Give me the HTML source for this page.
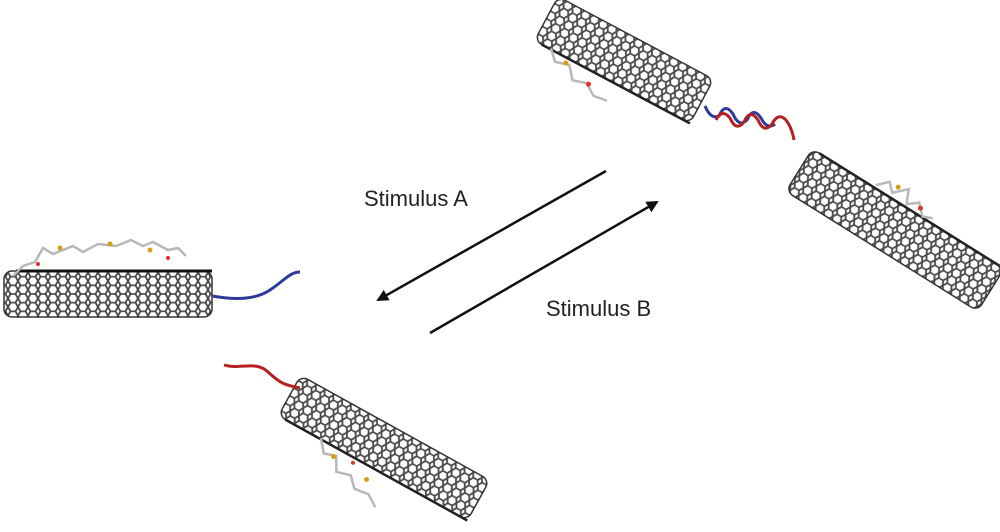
<!DOCTYPE html>
<html><head><meta charset="utf-8"><style>
html,body{margin:0;padding:0;background:#fff;width:1000px;height:532px;overflow:hidden}
</style></head><body>
<svg width="1000" height="532" viewBox="0 0 1000 532" xmlns="http://www.w3.org/2000/svg">
<defs>
<pattern id="hex" width="10" height="8.66" patternUnits="userSpaceOnUse">
<rect width="10" height="8.66" fill="#fff"/>
<path d="M0 4.33 L2.5 0 L7.5 0 L10 4.33 L7.5 8.66 L2.5 8.66 Z" fill="none" stroke="#4a4a4a" stroke-width="1.8"/>
</pattern>
<marker id="ah" markerWidth="12" markerHeight="12" refX="10" refY="6" orient="auto" markerUnits="userSpaceOnUse">
<path d="M0 0 L12 6 L0 12 Z" fill="#111"/>
</marker>
</defs>

<!-- Tube 1 -->
<g transform="translate(108,294)">
<rect x="-104" y="-23" width="208" height="46" rx="8" fill="url(#hex)" stroke="#333" stroke-width="1.5"/>
<line x1="-92" y1="-23" x2="104" y2="-23" stroke="#111" stroke-width="3"/>
<path d="M-95 -18 l10 -10 l12 -4 l8 -14 l10 6 l20 -8 l10 6 l15 -8 l18 2 l15 -6 l12 6 l10 -4 l15 8 l10 -2 l8 8" fill="none" stroke="#b8b8b8" stroke-width="2.5"/>
<circle cx="-48" cy="-46" r="2.5" fill="#d4a017"/><circle cx="2" cy="-50" r="2.5" fill="#d4a017"/><circle cx="42" cy="-44" r="2.5" fill="#d4a017"/>
<circle cx="-70" cy="-30" r="2" fill="#d33"/><circle cx="60" cy="-36" r="2" fill="#d33"/>
</g>
<path d="M212 296 C235 300,255 300,270 290 S290 272,300 272" fill="none" stroke="#2e3a9a" stroke-width="3"/>

<!-- Tube 2 -->
<g transform="translate(384,448) rotate(29)">
<rect x="-108" y="-23" width="216" height="46" rx="8" fill="url(#hex)" stroke="#333" stroke-width="1.5"/>
<line x1="-100" y1="23" x2="108" y2="23" stroke="#222" stroke-width="2.5"/>
<path d="M-60 22 l10 12 l12 -4 l8 14 l14 -4 l10 10 l15 -2 l12 8" fill="none" stroke="#b8b8b8" stroke-width="2.5"/>
<circle cx="-40" cy="32" r="2.5" fill="#d4a017"/><circle cx="0" cy="36" r="2.5" fill="#d4a017"/><circle cx="-20" cy="28" r="2" fill="#d33"/>
</g>
<path d="M224 365 C240 370,255 360,268 372 S285 385,300 388" fill="none" stroke="#b52020" stroke-width="3"/>

<!-- Tube 3 -->
<g transform="translate(624,60) rotate(28)">
<rect x="-88" y="-25" width="176" height="50" rx="8" fill="url(#hex)" stroke="#333" stroke-width="1.5"/>
<line x1="-80" y1="25" x2="88" y2="25" stroke="#222" stroke-width="2.5"/>
<path d="M-70 24 l10 10 l14 -4 l10 12 l14 -4 l12 8 l14 -2" fill="none" stroke="#b8b8b8" stroke-width="2.5"/>
<circle cx="-50" cy="30" r="2.5" fill="#d4a017"/><circle cx="-20" cy="38" r="2.5" fill="#d33"/>
</g>
<!-- Tube 4 -->
<g transform="translate(895,230) rotate(32)">
<rect x="-113" y="-25" width="226" height="50" rx="8" fill="url(#hex)" stroke="#333" stroke-width="1.5"/>
<line x1="-105" y1="-25" x2="113" y2="-25" stroke="#222" stroke-width="2.5"/>
<path d="M-40 -28 l10 -10 l8 8 l12 -12 l6 14 l10 -8 l10 10 l10 -4" fill="none" stroke="#b8b8b8" stroke-width="2.5"/>
<circle cx="-20" cy="-38" r="2.5" fill="#d4a017"/><circle cx="10" cy="-32" r="2.5" fill="#d33"/>
</g>
<!-- helix -->
<path d="M705 106 q6 14 14 10 q6 -14 14 -2 q6 14 14 6 q6 -14 14 -2 q6 12 14 6" fill="none" stroke="#2e3a9a" stroke-width="3"/>
<path d="M716 120 q6 -12 14 -2 q6 14 14 4 q6 -14 14 -2 q6 14 14 4 q6 -12 14 -4 q6 8 8 20" fill="none" stroke="#b52020" stroke-width="3"/>

<!-- arrows -->
<line x1="606" y1="171" x2="378" y2="300" stroke="#111" stroke-width="2.5" marker-end="url(#ah)"/>
<line x1="430" y1="333" x2="657" y2="202" stroke="#111" stroke-width="2.5" marker-end="url(#ah)"/>
<text x="364" y="206" font-family="Liberation Sans, sans-serif" font-size="22" fill="#222">Stimulus A</text>
<text x="546" y="316" font-family="Liberation Sans, sans-serif" font-size="22" fill="#222">Stimulus B</text>
</svg>
</body></html>
